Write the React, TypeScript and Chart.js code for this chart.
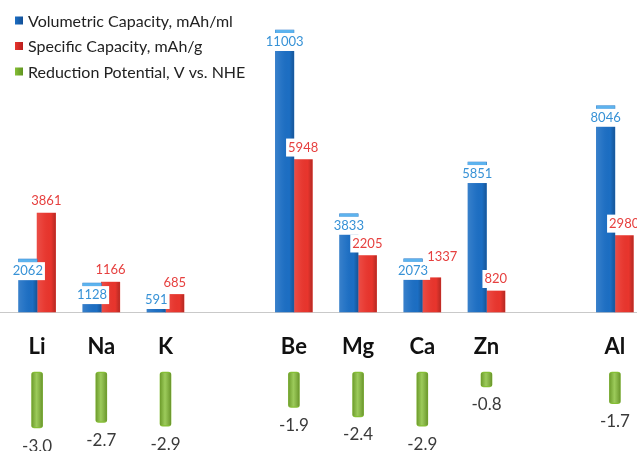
import React, { useEffect, useRef } from "react";
import { Chart, registerables } from "chart.js";

Chart.register(...registerables);

const categories = ["Li", "Na", "K", "", "Be", "Mg", "Ca", "Zn", "", "Al"];
const volumetricCapacity = [2062, 1128, 591, null, 11003, 3833, 2073, 5851, null, 8046];
const specificCapacity = [3861, 1166, 685, null, 5948, 2205, 1337, 820, null, 2980];
const reductionPotential = [-3.0, -2.7, -2.9, null, -1.9, -2.4, -2.9, -0.8, null, -1.7];
const seriesLabels = [
  "Volumetric Capacity, mAh/ml",
  "Specific Capacity, mAh/g",
  "Reduction Potential, V vs. NHE",
];

const FONT = "Lato, 'Open Sans', sans-serif";
const BLUE = "#1c6ec3";
const RED = "#e8352d";
const GREEN = "#86bf36";

const baselinePlugin = {
  id: "baseline",
  beforeDatasetsDraw(chart: any) {
    const ctx = chart.ctx;
    const y = Math.round(chart.scales.y.getPixelForValue(0)) + 0.5;
    ctx.save();
    ctx.strokeStyle = "#c9c9c9";
    ctx.lineWidth = 1;
    ctx.beginPath();
    ctx.moveTo(0, y);
    ctx.lineTo(chart.width, y);
    ctx.stroke();
    ctx.restore();
  },
};

const shadePlugin = {
  id: "shade",
  afterDatasetsDraw(chart: any) {
    const ctx = chart.ctx;
    chart.data.datasets.forEach((ds: any, di: number) => {
      const meta = chart.getDatasetMeta(di);
      meta.data.forEach((el: any, i: number) => {
        if (ds.data[i] == null) return;
        const { x, y, base, width } = el.getProps(["x", "y", "base", "width"], true);
        const left = x - width / 2;
        const top = Math.min(y, base);
        const h = Math.abs(base - y);
        const g = ctx.createLinearGradient(left, 0, left + width, 0);
        if (di === 2) {
          g.addColorStop(0, "rgba(0,0,0,0.18)");
          g.addColorStop(0.45, "rgba(255,255,255,0.18)");
          g.addColorStop(1, "rgba(0,0,0,0.22)");
        } else {
          g.addColorStop(0, "rgba(255,255,255,0.12)");
          g.addColorStop(0.35, "rgba(255,255,255,0.04)");
          g.addColorStop(0.75, "rgba(0,0,0,0)");
          g.addColorStop(1, "rgba(0,0,0,0.22)");
        }
        ctx.save();
        ctx.fillStyle = g;
        ctx.fillRect(left, top + (di === 2 ? 1 : 0), width, h - (di === 2 ? 2 : 0));
        ctx.restore();
      });
    });
  },
};

const labelPlugin = {
  id: "valueLabels",
  afterDatasetsDraw(chart: any) {
    const ctx = chart.ctx;
    ctx.save();
    const drawBox = (text: string, cx: number, cy: number, color: string, size: number) => {
      ctx.font = `${size}px ${FONT}`;
      const w = ctx.measureText(text).width;
      ctx.fillStyle = "#ffffff";
      ctx.fillRect(cx - w / 2 - 2, cy - 9, w + 4, 18);
      ctx.fillStyle = color;
      ctx.textAlign = "center";
      ctx.textBaseline = "middle";
      ctx.fillText(text, cx, cy);
    };
    const blueBoxes: { cx: number; cy: number; right: number }[] = [];
    const metaB = chart.getDatasetMeta(0);
    metaB.data.forEach((el: any, i: number) => {
      const v = chart.data.datasets[0].data[i];
      if (v == null) return;
      const { x, y, base, width } = el.getProps(["x", "y", "base", "width"], true);
      ctx.fillStyle = "#5db3ee";
      ctx.fillRect(x - width / 2, y, width, 3);
      const cy = Math.min(y + 12, base - 12);
      ctx.font = `13px ${FONT}`;
      const w = ctx.measureText(String(v)).width;
      blueBoxes[i] = { cx: x, cy, right: x + w / 2 };
      drawBox(String(v), x, cy, "#3792d6", 13);
    });
    const metaR = chart.getDatasetMeta(1);
    metaR.data.forEach((el: any, i: number) => {
      const v = chart.data.datasets[1].data[i];
      if (v == null) return;
      const { x, y } = el.getProps(["x", "y"], true);
      let cx = x;
      let cy = y - 12;
      const b = blueBoxes[i];
      if (b && Math.abs(b.cy - cy) < 16) {
        ctx.font = `13px ${FONT}`;
        const w = ctx.measureText(String(v)).width;
        cy = b.cy - 14;
        cx = Math.max(cx, b.right + w / 2 - 1);
      }
      drawBox(String(v), cx, cy, "#e6403f", 13);
    });
    const metaG = chart.getDatasetMeta(2);
    metaG.data.forEach((el: any, i: number) => {
      const v = chart.data.datasets[2].data[i];
      if (v == null) return;
      const { x, y } = el.getProps(["x", "y"], true);
      ctx.font = `17px ${FONT}`;
      ctx.fillStyle = "#3a3a3a";
      ctx.textAlign = "center";
      ctx.textBaseline = "middle";
      ctx.fillText(Number(v).toFixed(1), x, y + 18);
    });
    ctx.restore();
  },
};

const legendPlugin = {
  id: "cornerLegend",
  afterDraw(chart: any) {
    const ctx = chart.ctx;
    const colors = [BLUE, RED, GREEN];
    ctx.save();
    chart.data.datasets.forEach((ds: any, i: number) => {
      const cy = 20.5 + i * 25.5;
      const g = ctx.createLinearGradient(15, 0, 23, 0);
      g.addColorStop(0, colors[i]);
      g.addColorStop(1, i === 2 ? "#5f9420" : i === 1 ? "#b81e1e" : "#124f96");
      ctx.fillStyle = g;
      ctx.fillRect(15, cy - 4, 8, 8);
      ctx.font = `16px ${FONT}`;
      ctx.fillStyle = "#222222";
      ctx.textAlign = "left";
      ctx.textBaseline = "middle";
      ctx.fillText(ds.label, 28, cy + 1);
    });
    ctx.restore();
  },
};

export default function App() {
  const canvasRef = useRef<HTMLCanvasElement | null>(null);

  useEffect(() => {
    if (!canvasRef.current) return;
    Chart.defaults.font.family = FONT;
    const chart = new Chart(canvasRef.current, {
      type: "bar",
      data: {
        labels: categories,
        datasets: [
          {
            label: seriesLabels[0],
            data: volumetricCapacity,
            backgroundColor: BLUE,
            barThickness: 18.5,
            yAxisID: "y",
          },
          {
            label: seriesLabels[1],
            data: specificCapacity,
            backgroundColor: RED,
            barThickness: 18.5,
            yAxisID: "y",
          },
          {
            label: seriesLabels[2],
            data: reductionPotential,
            backgroundColor: GREEN,
            barThickness: 11,
            grouped: false,
            yAxisID: "y2",
            borderRadius: 3,
            borderSkipped: false,
          } as any,
        ],
      },
      options: {
        responsive: false,
        animation: false,
        layout: { padding: { left: 5, right: 13, top: 0, bottom: 0 } },
        plugins: {
          legend: { display: false },
          tooltip: { enabled: false },
        },
        scales: {
          x: {
            type: "category",
            offset: true,
            position: { y: 0 } as any,
            grid: { display: false, drawTicks: false },
            border: { display: false },
            ticks: {
              font: { family: FONT, size: 22, weight: "bold" },
              color: "#111111",
              padding: 22,
              autoSkip: false,
              maxRotation: 0,
            },
          },
          y: { display: false, min: -5423, max: 12173 },
          y2: { display: false, min: -4.23, max: 19.93 },
        },
      },
      plugins: [baselinePlugin, shadePlugin, labelPlugin, legendPlugin],
    });
    return () => chart.destroy();
  }, []);

  return (
    <div
      style={{
        position: "fixed",
        left: 0,
        top: 0,
        width: 637,
        height: 451,
        overflow: "hidden",
        background: "#ffffff",
      }}
    >
      <canvas ref={canvasRef} width={660} height={451} style={{ display: "block" }} />
    </div>
  );
}
